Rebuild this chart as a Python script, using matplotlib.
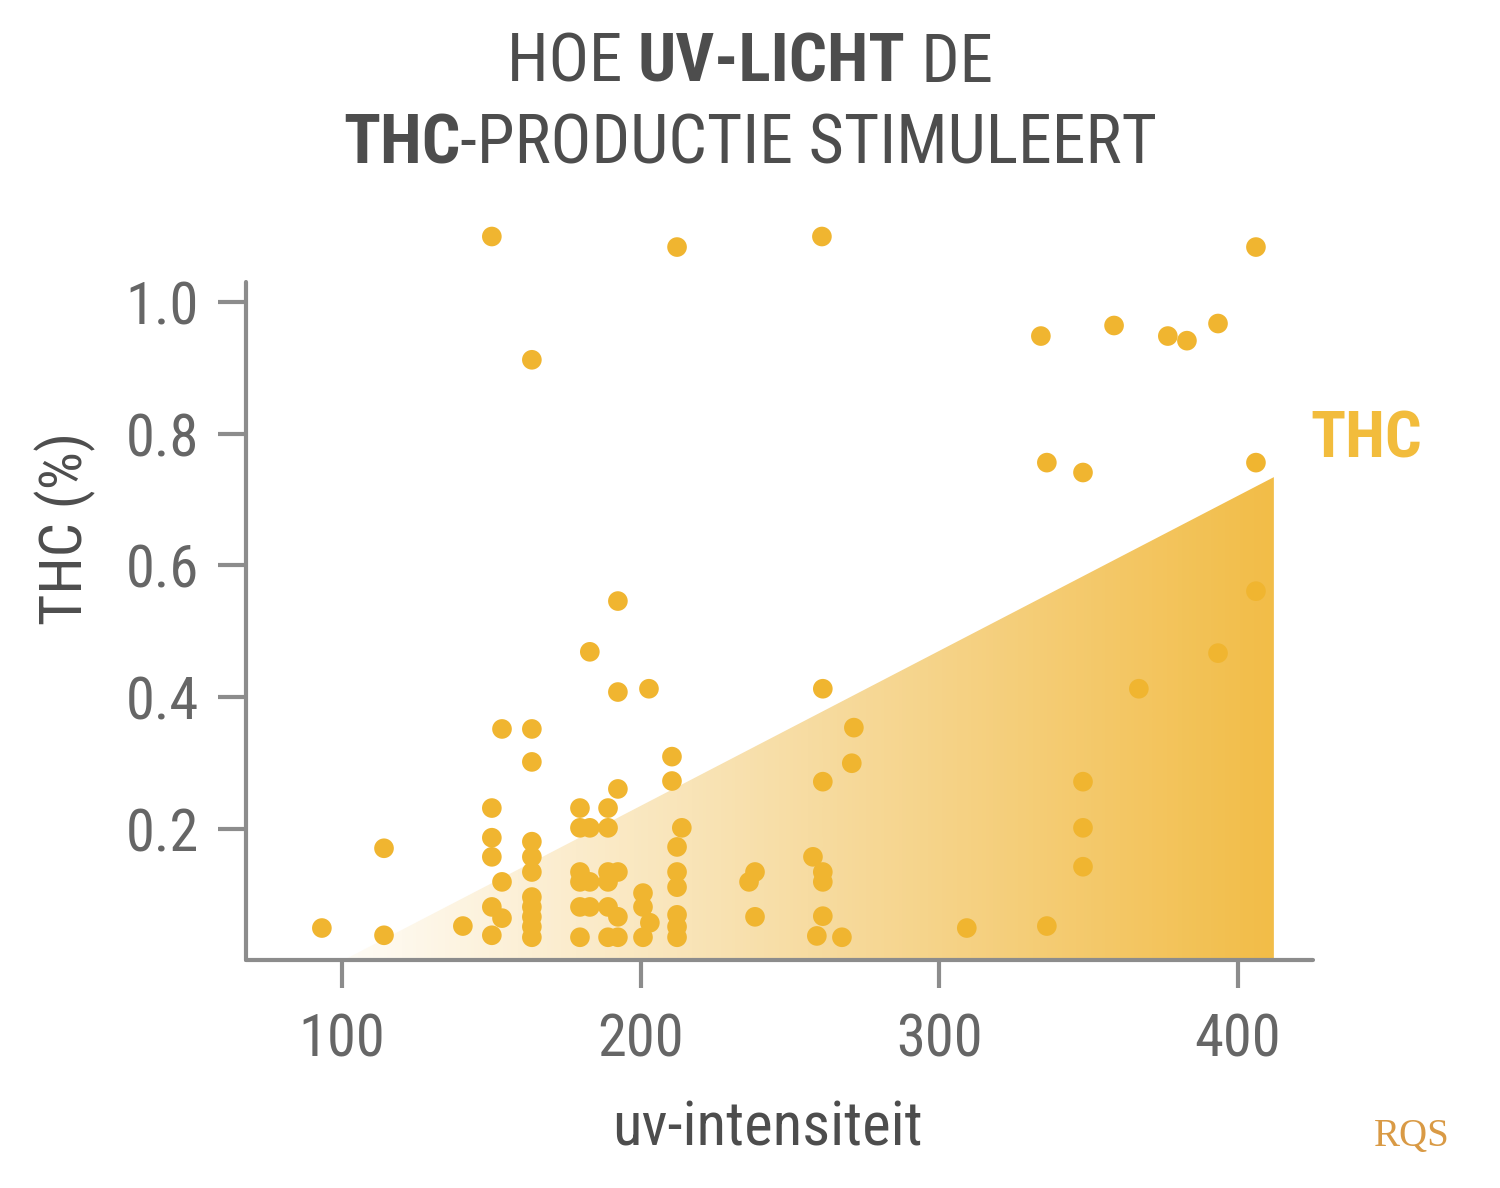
import matplotlib
matplotlib.use('Agg')
import matplotlib.pyplot as plt
import numpy as np
from matplotlib import font_manager
from matplotlib.patches import Polygon
from matplotlib.colors import LinearSegmentedColormap

# ---------------- data ----------------
uv = [93.3, 114.1, 114.1, 140.5,
      150.2, 153.6, 150.2, 150.2, 150.2, 153.6, 150.2, 153.6, 150.2,
      163.6, 163.6, 163.6, 163.6, 163.6, 163.6, 163.6, 163.6, 163.6, 163.6, 163.6,
      179.7, 179.7, 179.7, 179.7, 179.7, 179.7,
      183.0, 183.0, 183.0, 183.0,
      189.1, 189.1, 189.1, 189.1, 189.1, 189.1,
      192.4, 192.4, 192.4, 192.4, 192.4, 192.4,
      200.8, 200.8, 203.1, 200.8, 202.8,
      210.5, 210.5, 212.2,
      213.8, 212.2, 212.2, 212.2, 212.2, 212.2, 212.2,
      236.3, 238.3, 238.3,
      257.7, 261.0, 261.0, 261.0, 259.0, 267.4, 261.0, 261.0, 271.4, 270.7, 260.7,
      309.2,
      334.0, 358.5, 376.5, 382.9, 393.3,
      336.0, 348.1, 406.0, 406.0, 406.0,
      393.3, 366.8, 348.1, 348.1, 348.1, 336.0]
thc = [0.050, 0.171, 0.039, 0.053,
       1.099, 0.352, 0.232, 0.187, 0.158, 0.120, 0.082, 0.065, 0.039,
       0.912, 0.352, 0.302, 0.181, 0.158, 0.135, 0.097, 0.082, 0.067, 0.052, 0.036,
       0.232, 0.202, 0.135, 0.120, 0.082, 0.036,
       0.469, 0.202, 0.120, 0.082,
       0.232, 0.202, 0.135, 0.120, 0.082, 0.036,
       0.546, 0.408, 0.261, 0.135, 0.067, 0.036,
       0.103, 0.082, 0.058, 0.036, 0.413,
       0.310, 0.273, 1.083,
       0.202, 0.173, 0.135, 0.112, 0.070, 0.052, 0.036,
       0.120, 0.135, 0.067,
       0.158, 0.135, 0.120, 0.068, 0.038, 0.036, 0.413, 0.272, 0.354, 0.300, 1.099,
       0.050,
       0.948, 0.964, 0.948, 0.941, 0.967,
       0.756, 0.741, 0.756, 0.561, 1.083,
       0.467, 0.413, 0.272, 0.202, 0.143, 0.053]

trend_x = [100, 412]
trend_y = [0.0, 0.734]

x_ticks = [100, 200, 300, 400]
x_tick_labels = ['100', '200', '300', '400']
y_ticks = [0.2, 0.4, 0.6, 0.8, 1.0]
y_tick_labels = ['0.2', '0.4', '0.6', '0.8', '1.0']

title_line1 = [("HOE ", "normal"), ("UV-LICHT", "bold"), (" DE", "normal")]
title_line2 = [("THC", "bold"), ("-PRODUCTIE STIMULEERT", "normal")]
x_label = "uv-intensiteit"
y_label = "THC (%)"
series_label = "THC"

# ---------------- fonts ----------------
fl = font_manager.fontManager.ttflist
names = {f.name for f in fl}
STRETCH = 'normal'
if 'Roboto Condensed' in names:
    FONT = 'Roboto Condensed'
elif 'Liberation Sans Narrow' in names:
    FONT = 'Liberation Sans Narrow'
elif any('DejaVuSansCondensed' in f.fname for f in fl):
    FONT = 'DejaVu Sans'
    STRETCH = 'condensed'
else:
    FONT = 'Roboto'
plt.rcParams['font.family'] = [FONT, 'DejaVu Sans']
plt.rcParams['font.stretch'] = STRETCH

GOLD = '#F0B530'
AXIS = '#8c8c8c'
TEXT = '#4d4d4d'
TICKTXT = '#666666'

W, H = 1500, 1188
fig = plt.figure(figsize=(W / 100, H / 100), dpi=100)
fig.patch.set_facecolor('white')
renderer = fig.canvas.get_renderer()


def fx(px):
    return px / W


def fy(py):
    return 1 - py / H


def fit(t, target_w, horizontal=True):
    ext = t.get_window_extent(renderer)
    cur = ext.width if horizontal else ext.height
    t.set_fontsize(t.get_fontsize() * target_w / cur)


ax = fig.add_axes([fx(246), fy(960), fx(1313) - fx(246), fy(282) - fy(960)])

# gradient triangle
cmap = LinearSegmentedColormap.from_list('g', ['#FFFCF6', '#F7DCA2', '#F2BD48'])
grad = np.linspace(0, 1, 256).reshape(1, -1)
im = ax.imshow(grad, extent=[trend_x[0], trend_x[1], 0, trend_y[1]], aspect='auto',
               cmap=cmap, origin='lower', zorder=1, interpolation='bilinear')
poly = Polygon([[trend_x[0], trend_y[0]], [trend_x[1], trend_y[1]], [trend_x[1], 0]],
               closed=True, facecolor='none', edgecolor='none', transform=ax.transData)
ax.add_patch(poly)
im.set_clip_path(poly)

ax.scatter(uv, thc, s=200, color=GOLD, edgecolors='none', zorder=3, clip_on=False)

ax.set_xlim(67.9, 425.1)
ax.set_ylim(0.0015, 1.030)

for s in ['top', 'right']:
    ax.spines[s].set_visible(False)
for s in ['left', 'bottom']:
    ax.spines[s].set_color(AXIS)
    ax.spines[s].set_linewidth(3)
    ax.spines[s].set_capstyle('round')

# measure tick label size to fit reference width of "100" (~87 px)
probe = fig.text(0, 0, '100', fontsize=40)
fit(probe, 87)
tick_size = probe.get_fontsize()
probe.remove()

ax.set_xticks(x_ticks)
ax.set_xticklabels(x_tick_labels)
ax.set_yticks(y_ticks)
ax.set_yticklabels(y_tick_labels)
ax.tick_params(axis='both', direction='out', length=20, width=3, color=AXIS,
               labelcolor=TICKTXT, labelsize=tick_size)
ax.tick_params(axis='x', pad=17)
ax.tick_params(axis='y', pad=14)
ax.set_facecolor('none')

ty = fig.text(fx(65), fy(528), y_label, rotation=90, ha='center', va='center',
              fontsize=48, color=TEXT)
fit(ty, 193, horizontal=False)
tx = fig.text(fx(767), fy(1128), x_label, ha='center', va='center',
              fontsize=48, color=TEXT)
fit(tx, 310)

ts = fig.text(fx(1310), fy(457), series_label, ha='left', va='baseline',
              fontsize=48, fontweight='bold', color='#F2BC3C')
fit(ts, 112)


# title with mixed weights
def draw_line(parts, baseline_px, target_w):
    size = 52.0
    texts = []
    for s, w in parts:
        t = fig.text(0, fy(baseline_px), s, fontsize=size, fontweight=w,
                     color=TEXT, ha='left', va='baseline')
        texts.append(t)
    total = sum(t.get_window_extent(renderer).width for t in texts)
    size = size * target_w / total
    for t in texts:
        t.set_fontsize(size)
    widths = [t.get_window_extent(renderer).width for t in texts]
    x = W / 2 - sum(widths) / 2
    for t, w in zip(texts, widths):
        t.set_x(fx(x))
        x += w


draw_line(title_line1, 82, 486)
draw_line(title_line2, 163, 815)

# logo
fig.text(fx(1412), fy(1146), "RQS", ha='center', va='baseline', fontsize=28,
         family=['Liberation Serif', 'DejaVu Serif'], color='#D99A45')

fig.savefig('out.png', dpi=100, facecolor='white')
